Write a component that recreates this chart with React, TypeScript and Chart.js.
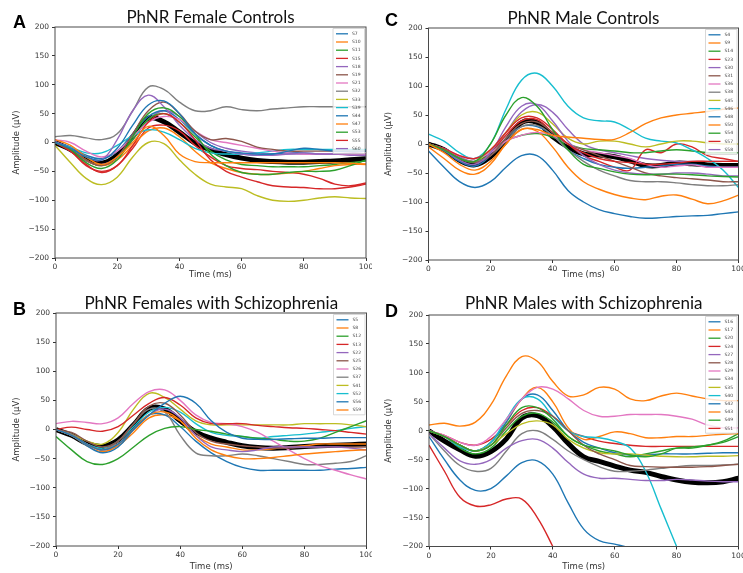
import React, { useEffect, useRef } from 'react';
import { Chart, registerables } from 'chart.js';

Chart.register(...registerables);

// ---------- shared axis values ----------
const timeMs = [0, 5, 10, 15, 20, 25, 30, 35, 40, 45, 50, 55, 60, 65, 70, 75, 80, 85, 90, 95, 100];
const yTickValues = [-200, -150, -100, -50, 0, 50, 100, 150, 200];
const xTickValues = [0, 20, 40, 60, 80, 100];

// ---------- A: PhNR Female Controls ----------
const femaleControlLabels = ['S7', 'S10', 'S11', 'S15', 'S18', 'S19', 'S21', 'S32', 'S33', 'S39', 'S44', 'S47', 'S53', 'S55', 'S60'];
const femaleControlValues = [
  [0, -10, -25, -30, -10, 30, 65, 72, 50, 15, -5, -15, -18, -20, -20, -15, -10, -12, -15, -15, -15],
  [5, -5, -25, -38, -25, 0, 28, 12, -20, -33, -35, -35, -35, -35, -35, -35, -35, -35, -35, -36, -37],
  [0, -12, -35, -45, -30, 10, 50, 60, 45, 15, -20, -40, -52, -55, -55, -52, -50, -50, -48, -40, -30],
  [0, -15, -40, -50, -40, -5, 35, 50, 35, 5, -30, -50, -60, -68, -75, -77, -78, -80, -80, -77, -72],
  [2, -10, -25, -30, 5, 55, 82, 62, 30, 5, -10, -15, -20, -22, -22, -20, -18, -20, -20, -18, -15],
  [0, -12, -30, -40, -25, 15, 55, 70, 50, 20, 5, 7, 2, -8, -12, -15, -15, -15, -15, -15, -15],
  [5, 0, -15, -25, -15, 10, 35, 45, 40, 20, 5, 0, -5, -10, -15, -18, -20, -20, -20, -20, -20],
  [10, 12, 8, 5, 15, 55, 96, 92, 70, 55, 55, 62, 57, 55, 58, 60, 62, 62, 62, 62, 62],
  [-5, -35, -62, -73, -60, -25, 0, -2, -30, -55, -72, -77, -80, -92, -100, -102, -100, -96, -94, -96, -97],
  [0, -8, -18, -18, -5, 12, 22, 18, 5, -10, -18, -20, -20, -18, -15, -12, -12, -12, -12, -12, -12],
  [0, -8, -22, -28, -15, 15, 45, 55, 40, 15, -5, -15, -20, -22, -20, -18, -18, -20, -20, -20, -20],
  [0, -10, -30, -40, -30, -5, 20, 25, 10, -15, -35, -45, -52, -55, -55, -53, -50, -45, -40, -38, -38],
  [0, -10, -30, -40, -25, 5, 40, 50, 35, 10, -15, -30, -38, -40, -42, -42, -42, -40, -38, -35, -32],
  [0, -15, -38, -52, -40, -10, 25, 30, 20, -5, -25, -40, -45, -47, -50, -52, -55, -62, -72, -75, -70],
  [0, -12, -32, -38, -25, 5, 40, 55, 45, 20, 0, -10, -15, -18, -20, -20, -20, -20, -20, -22, -22],
];
const femaleControlMean = [0, -12, -28, -36, -22, 10, 42, 36, 18, -1, -13, -21, -27, -31, -33, -34, -34, -33, -32, -30, -28];

// ---------- C: PhNR Male Controls ----------
const maleControlLabels = ['S4', 'S9', 'S14', 'S23', 'S30', 'S31', 'S36', 'S38', 'S45', 'S46', 'S48', 'S50', 'S54', 'S57', 'S58'];
const maleControlValues = [
  [-12, -40, -65, -75, -65, -40, -20, -20, -45, -80, -100, -113, -120, -125, -128, -127, -125, -124, -123, -120, -117],
  [0, -15, -35, -45, -30, 0, 25, 25, 15, 12, 10, 8, 8, 20, 35, 45, 50, 53, 56, 60, 62],
  [0, -10, -25, -30, 0, 50, 80, 65, 25, -10, -35, -42, -48, -52, -53, -52, -52, -53, -55, -56, -57],
  [0, -8, -20, -25, -10, 20, 45, 45, 25, 0, -15, -25, -30, -32, -35, -35, -33, -30, -30, -30, -30],
  [0, -10, -28, -35, -15, 30, 65, 68, 40, 5, -20, -35, -45, -50, -52, -52, -50, -50, -52, -55, -55],
  [0, -10, -25, -32, -20, 10, 35, 38, 20, 0, -10, -20, -30, -40, -50, -55, -58, -60, -62, -65, -65],
  [0, -8, -20, -25, -15, 5, 15, 20, 15, 0, -10, -15, -20, -25, -35, -40, -38, -36, -40, -40, -40],
  [0, -10, -25, -30, -20, 5, 30, 32, 15, -10, -30, -45, -55, -63, -65, -65, -67, -70, -72, -72, -70],
  [0, -10, -25, -30, -10, 20, 50, 55, 35, 10, 0, 5, 5, 0, -5, 0, 5, 5, 2, 0, 0],
  [17, 5, -15, -25, 0, 60, 110, 122, 100, 65, 45, 40, 38, 25, 10, 5, 2, -10, -25, -45, -75],
  [0, -12, -30, -38, -20, 10, 30, 30, 15, -10, -25, -35, -40, -42, -40, -38, -35, -35, -38, -40, -40],
  [-5, -25, -45, -52, -35, 0, 25, 22, -5, -40, -65, -78, -87, -93, -96, -90, -88, -95, -103, -98, -88],
  [0, -10, -25, -30, -15, 5, 15, 18, 12, 0, -8, -10, -12, -15, -15, -12, -10, -12, -15, -15, -15],
  [0, -10, -25, -30, -15, 15, 40, 42, 20, 0, -20, -30, -40, -45, -10, -15, 0, -5, -20, -25, -30],
  [0, -8, -22, -30, -15, 20, 55, 68, 55, 25, 0, -10, -15, -20, -25, -28, -30, -30, -30, -30, -30],
];
const maleControlMean = [0, -10, -28, -36, -22, 5, 37, 37, 13, -5, -17, -19, -22, -29, -37, -37, -33, -34, -36, -37, -37];

// ---------- B: PhNR Females with Schizophrenia ----------
const femaleSchizLabels = ['S5', 'S8', 'S12', 'S13', 'S22', 'S25', 'S26', 'S37', 'S41', 'S52', 'S56', 'S59'];
const femaleSchizValues = [
  [0, -10, -25, -35, -25, 0, 25, 45, 57, 45, 15, -5, -15, -17, -17, -16, -15, -15, -14, -14, -14],
  [0, -10, -25, -35, -25, 0, 25, 30, 15, -15, -35, -45, -50, -50, -48, -45, -42, -40, -38, -36, -35],
  [-12, -35, -55, -60, -50, -30, -10, 2, 5, 0, -3, -8, -12, -15, -17, -20, -20, -15, -5, 5, 15],
  [0, 4, 0, -3, 5, 25, 45, 55, 42, 20, 10, 10, 10, 7, 5, 3, 2, 0, -2, -5, -8],
  [0, -10, -25, -35, -25, 0, 25, 35, 20, -10, -30, -35, -38, -35, -30, -30, -30, -30, -30, -32, -35],
  [0, -5, -20, -30, -20, 10, 40, 45, 25, -5, -20, -25, -28, -30, -32, -32, -30, -30, -30, -30, -30],
  [10, 14, 12, 10, 20, 45, 65, 68, 50, 25, 12, 10, 5, -5, -20, -35, -50, -62, -70, -78, -85],
  [0, -8, -25, -35, -20, 10, 35, 30, -10, -40, -45, -45, -42, -45, -50, -55, -60, -60, -58, -55, -45],
  [0, -8, -20, -25, -5, 35, 62, 55, 35, 15, 8, 8, 8, 8, 8, 8, 10, 10, 10, 8, 5],
  [0, -10, -25, -32, -20, 5, 30, 38, 30, 10, -5, -10, -12, -15, -12, -10, -8, -5, -2, 2, 5],
  [0, -10, -28, -40, -30, 0, 25, 25, 5, -20, -40, -55, -65, -70, -70, -70, -70, -70, -68, -67, -65],
  [0, -10, -28, -38, -28, -5, 20, 25, 15, -10, -25, -30, -35, -35, -33, -30, -28, -25, -25, -25, -25],
];
const femaleSchizMean = [0, -10, -24, -29, -18, 8, 36, 35, 15, -4, -15, -22, -28, -31, -32, -31, -29, -28, -27, -26, -25];

// ---------- D: PhNR Males with Schizophrenia ----------
const maleSchizLabels = ['S16', 'S17', 'S20', 'S24', 'S27', 'S28', 'S29', 'S34', 'S35', 'S40', 'S42', 'S43', 'S49', 'S51'];
const maleSchizValues = [
  [-10, -50, -85, -103, -100, -78, -55, -52, -75, -125, -170, -190, -196, -203, -215, -230],
  [10, 13, 8, 15, 45, 95, 128, 120, 85, 60, 62, 75, 72, 55, 52, 60, 65, 60, 55, 52, 52],
  [0, -10, -25, -35, -25, 10, 40, 40, 20, -10, -25, -30, -35, -42, -45, -40, -30, -28, -25, -20, -10],
  [-25, -70, -115, -130, -128, -118, -118, -150, -200, -255, -310],
  [-5, -30, -52, -58, -50, -30, -17, -15, -30, -55, -75, -82, -82, -84, -86, -86, -84, -85, -87, -88, -88],
  [0, -10, -25, -35, -25, 5, 30, 35, 25, 0, -25, -40, -50, -60, -62, -63, -63, -63, -62, -60, -58],
  [0, -8, -20, -25, -10, 20, 55, 75, 72, 55, 35, 25, 25, 28, 28, 28, 25, 20, 10, 5, 5],
  [-5, -35, -60, -70, -65, -35, -5, 0, -15, -35, -50, -62, -70, -70, -68, -65, -62, -60, -60, -59, -58],
  [0, -10, -25, -35, -25, -5, 12, 17, 10, -15, -30, -38, -40, -40, -42, -44, -45, -45, -44, -44, -43],
  [0, -10, -28, -35, -20, 20, 55, 55, 25, 0, -10, -12, -18, -30, -70, -135, -200, -265],
  [0, -10, -25, -35, -20, 15, 55, 62, 35, 0, -20, -30, -38, -42, -42, -40, -40, -40, -39, -38, -38],
  [0, -10, -25, -35, -20, 15, 55, 75, 50, 5, -15, -10, -2, -5, -12, -12, -10, -10, -8, -6, -5],
  [0, -10, -30, -40, -30, 0, 25, 30, 15, -10, -25, -35, -40, -45, -40, -35, -30, -30, -25, -18, -5],
  [0, -8, -20, -25, -15, 10, 35, 40, 25, 0, -10, -18, -22, -25, -27, -27, -27, -27, -27, -27, -27],
];
const maleSchizMean = [0, -18, -33, -44, -36, -14, 22, 26, 7, -22, -45, -53, -61, -68, -72, -79, -85, -89, -90, -88, -82];

// ---------- styles / layout ----------
const tab10 = ['#1f77b4', '#ff7f0e', '#2ca02c', '#d62728', '#9467bd', '#8c564b', '#e377c2', '#7f7f7f', '#bcbd22', '#17becf'];
const TICK_FONT = 'DejaVu Sans';
const TITLE_FONT = 'Lato';

type PanelCfg = {
  letter: string; title: string; labels: string[]; values: number[][]; mean: number[];
  left: number; top: number; w: number; h: number;
  area: { l: number; r: number; t: number; b: number };
  titleY: number; letterY: number; xTitlePad: number;
};

const panels: PanelCfg[] = [
  { letter: 'A', title: 'PhNR Female Controls', labels: femaleControlLabels, values: femaleControlValues, mean: femaleControlMean,
    left: 0, top: 0, w: 372, h: 280, area: { l: 55, r: 366, t: 27, b: 258 }, titleY: 18, letterY: 28, xTitlePad: 0 },
  { letter: 'C', title: 'PhNR Male Controls', labels: maleControlLabels, values: maleControlValues, mean: maleControlMean,
    left: 372, top: 0, w: 371, h: 280, area: { l: 56.5, r: 366.5, t: 28, b: 260 }, titleY: 19, letterY: 26, xTitlePad: 0 },
  { letter: 'B', title: 'PhNR Females with Schizophrenia', labels: femaleSchizLabels, values: femaleSchizValues, mean: femaleSchizMean,
    left: 0, top: 280, w: 372, h: 293, area: { l: 56, r: 366.5, t: 33, b: 266 }, titleY: 23.5, letterY: 35, xTitlePad: 1 },
  { letter: 'D', title: 'PhNR Males with Schizophrenia', labels: maleSchizLabels, values: maleSchizValues, mean: maleSchizMean,
    left: 372, top: 280, w: 371, h: 293, area: { l: 57, r: 366.5, t: 35, b: 266.5 }, titleY: 23.5, letterY: 37, xTitlePad: 1 },
];

const decorPlugin = {
  id: 'panelDecor',
  afterDatasetsDraw(chart: any, _args: any, opts: any) {
    const { ctx, chartArea } = chart;
    const { left, right, top, bottom } = chartArea;
    ctx.save();
    // frame
    ctx.strokeStyle = '#4a4a4a';
    ctx.lineWidth = 1;
    ctx.strokeRect(left, top, right - left, bottom - top);
    // legend
    const n = opts.count as number;
    const rowH = 8.2;
    const boxL = right - 33;
    const boxR = right - 1.5;
    const boxT = top + 1.5;
    const firstY = boxT + 5.3;
    const boxB = firstY + (n - 1) * rowH + 4.8;
    ctx.fillStyle = 'rgba(255,255,255,0.8)';
    ctx.strokeStyle = 'rgba(200,200,200,0.9)';
    ctx.lineWidth = 0.8;
    ctx.beginPath();
    ctx.rect(boxL, boxT, boxR - boxL, boxB - boxT);
    ctx.fill();
    ctx.stroke();
    ctx.font = `4.5px "${TICK_FONT}"`;
    ctx.textBaseline = 'middle';
    ctx.textAlign = 'left';
    for (let i = 0; i < n; i++) {
      const ds = chart.data.datasets[i];
      const y = firstY + i * rowH;
      ctx.strokeStyle = ds.borderColor;
      ctx.lineWidth = 1.3;
      ctx.beginPath();
      ctx.moveTo(right - 30, y);
      ctx.lineTo(right - 18, y);
      ctx.stroke();
      ctx.fillStyle = '#444';
      ctx.fillText(ds.label, right - 14, y);
    }
    ctx.restore();
  },
  afterDraw(chart: any, _args: any, opts: any) {
    const { ctx, chartArea } = chart;
    ctx.save();
    ctx.fillStyle = '#111';
    ctx.font = `17px "${TITLE_FONT}"`;
    ctx.textAlign = 'center';
    ctx.textBaseline = 'middle';
    ctx.fillText(opts.title, (chartArea.left + chartArea.right) / 2, opts.titleY);
    ctx.font = `bold 18px "Liberation Sans"`;
    ctx.textAlign = 'left';
    ctx.textBaseline = 'alphabetic';
    ctx.fillStyle = '#000';
    ctx.fillText(opts.letter, 13, opts.letterY);
    ctx.restore();
  },
};

function Panel({ cfg }: { cfg: PanelCfg }) {
  const ref = useRef<HTMLCanvasElement>(null);
  useEffect(() => {
    if (!ref.current) return;
    const datasets: any[] = cfg.labels.map((lab, i) => ({
      label: lab,
      data: cfg.values[i].map((v, j) => ({ x: timeMs[j], y: v })),
      borderColor: tab10[i % 10],
      borderWidth: 1.4,
      pointRadius: 0,
      tension: 0.4,
      fill: false,
    }));
    datasets.push({
      label: 'Mean',
      data: cfg.mean.map((v, j) => ({ x: timeMs[j], y: v })),
      borderColor: '#000',
      borderWidth: 5,
      pointRadius: 0,
      tension: 0.4,
      fill: false,
    });
    const { area, w, h } = cfg;
    const chart = new Chart(ref.current, {
      type: 'line',
      data: { datasets },
      options: {
        animation: false,
        responsive: false,
        events: [],
        layout: { padding: { top: area.t, right: w - area.r, bottom: 0, left: 0 } },
        plugins: {
          legend: { display: false },
          tooltip: { enabled: false },
          panelDecor: { count: cfg.labels.length, title: cfg.title, titleY: cfg.titleY, letter: cfg.letter, letterY: cfg.letterY },
        } as any,
        scales: {
          x: {
            type: 'linear',
            min: 0,
            max: 100,
            afterBuildTicks: (s: any) => { s.ticks = xTickValues.map((v) => ({ value: v })); },
            afterFit: (s: any) => { s.height = h - area.b; s.paddingLeft = 0; s.paddingRight = 0; },
            ticks: { font: { family: TICK_FONT, size: 7.5 }, color: '#333', padding: 2, maxRotation: 0, autoSkip: false },
            grid: { display: true, drawOnChartArea: false, drawTicks: true, tickLength: 3, color: '#333' },
            border: { display: false },
            title: { display: true, text: 'Time (ms)', font: { family: TICK_FONT, size: 8.5 }, color: '#333', padding: { top: 0, bottom: cfg.xTitlePad } },
          },
          y: {
            type: 'linear',
            min: -200,
            max: 200,
            afterBuildTicks: (s: any) => { s.ticks = yTickValues.map((v) => ({ value: v })); },
            afterFit: (s: any) => { s.width = area.l; s.paddingTop = 0; s.paddingBottom = 0; },
            ticks: {
              font: { family: TICK_FONT, size: 7.5 }, color: '#333', padding: 3, autoSkip: false,
              callback: (v: any) => String(v).replace('-', '\u2212'),
            },
            grid: { display: true, drawOnChartArea: false, drawTicks: true, tickLength: 3, color: '#333' },
            border: { display: false },
            title: { display: true, text: 'Amplitude (\u03bcV)', font: { family: TICK_FONT, size: 8.5 }, color: '#333', padding: { top: 12, bottom: 0 } },
          },
        },
      },
      plugins: [decorPlugin],
    });
    return () => chart.destroy();
  }, [cfg]);
  return (
    <canvas
      ref={ref}
      width={cfg.w}
      height={cfg.h}
      style={{ position: 'absolute', left: cfg.left, top: cfg.top, width: cfg.w, height: cfg.h }}
    />
  );
}

export default function App() {
  return (
    <div style={{ position: 'absolute', left: 0, top: 0, width: 743, height: 573, background: '#fff', overflow: 'hidden' }}>
      {panels.map((p) => (
        <Panel key={p.letter} cfg={p} />
      ))}
    </div>
  );
}
